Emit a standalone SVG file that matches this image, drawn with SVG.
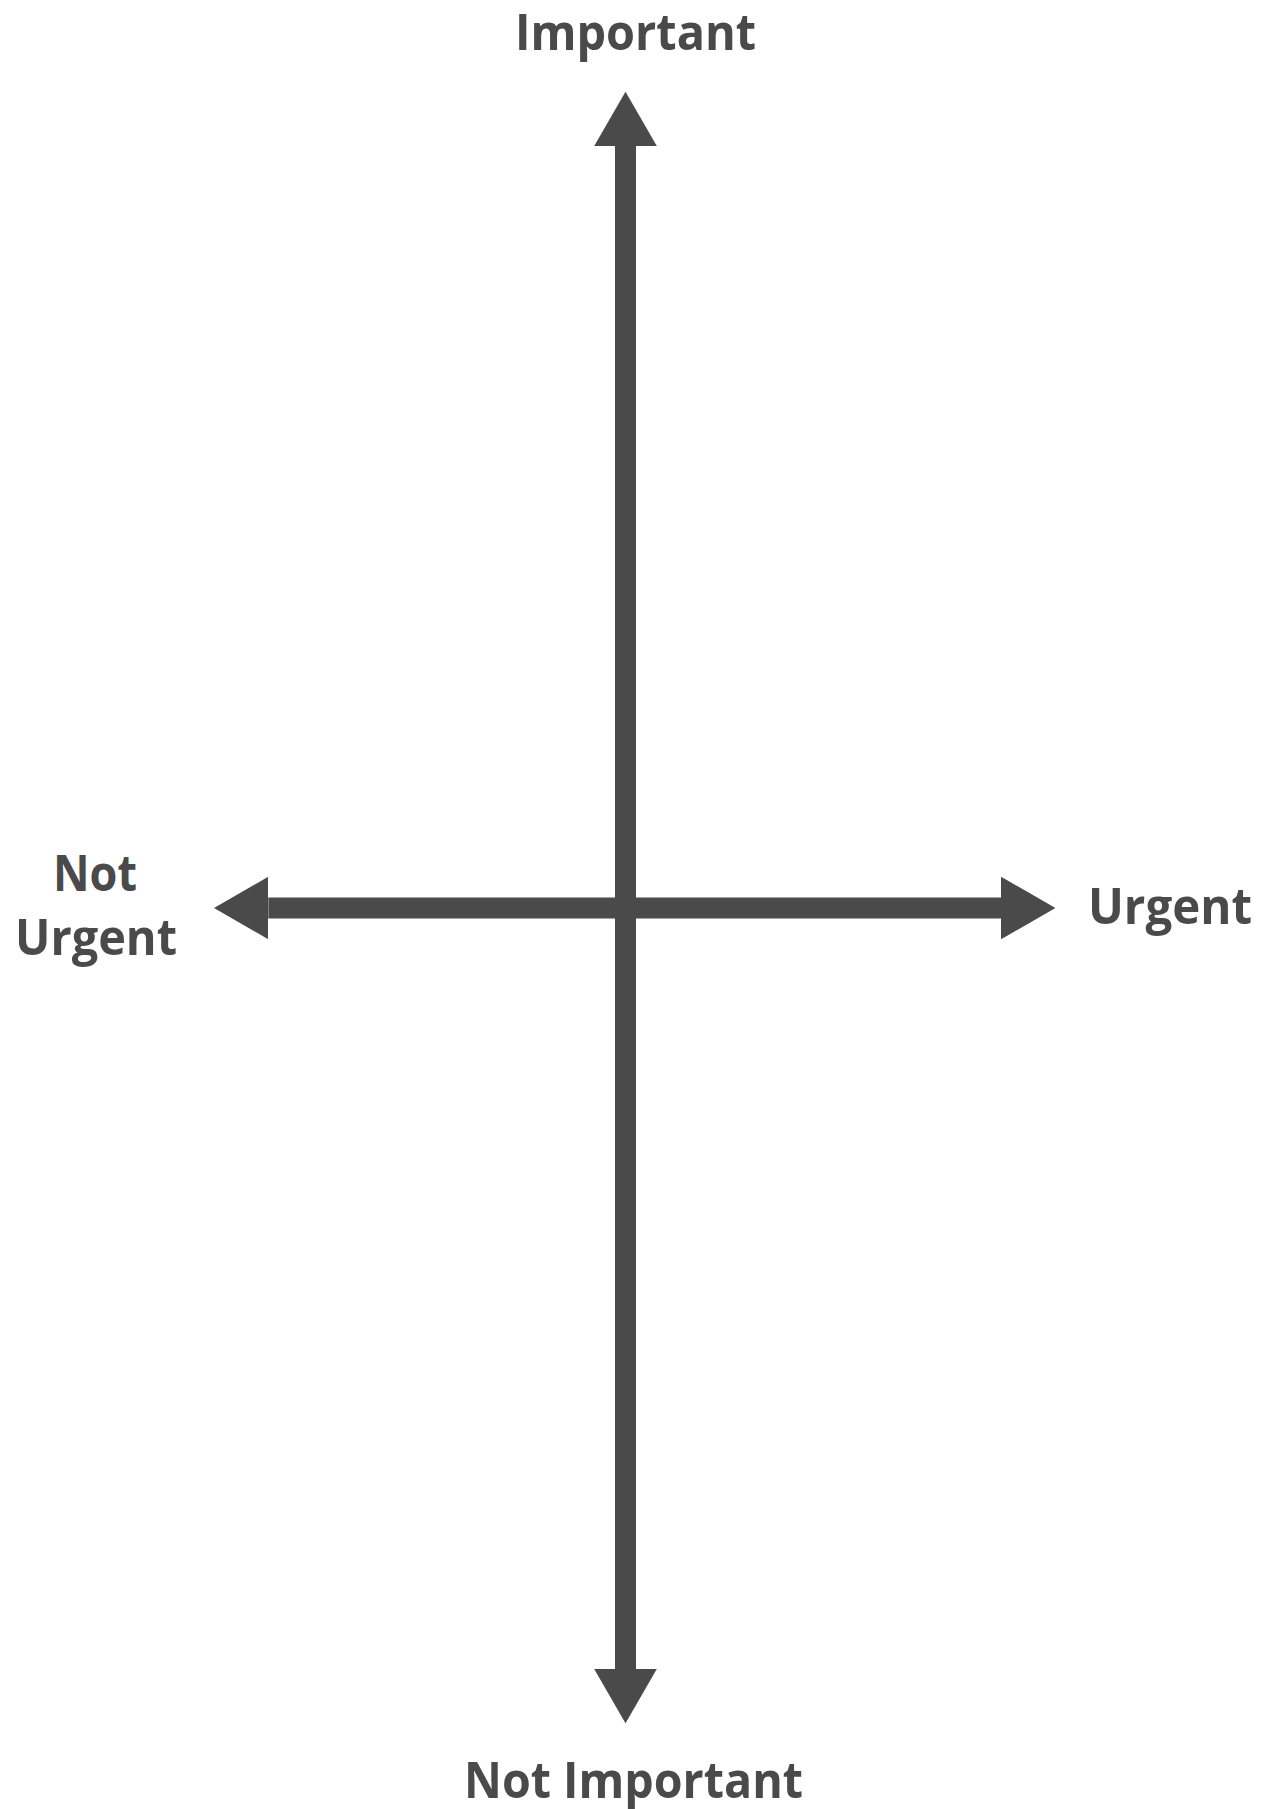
<svg xmlns="http://www.w3.org/2000/svg" width="1273" height="1809" viewBox="0 0 1273 1809">
  <style>
    .lbl { font-family: "Open Sans", "Liberation Sans", sans-serif; font-weight: 700; font-size: 50px; fill: #4a4a4a; }
    .axis { stroke: #4a4a4a; stroke-width: 21; fill: none; marker-start: url(#head); marker-end: url(#head); }
  </style>
  <defs>
    <marker id="head" viewBox="0 0 54.3 62.6" markerWidth="54.3" markerHeight="62.6" markerUnits="userSpaceOnUse" refX="0" refY="31.3" orient="auto-start-reverse">
      <path d="M0,0 L54.3,31.3 L0,62.6 Z" fill="#4a4a4a"/>
    </marker>
  </defs>
  <rect width="1273" height="1809" fill="#ffffff"/>
  <g id="connectors">
    <line class="axis" x1="625.5" y1="146" x2="625.5" y2="1669"/>
    <line class="axis" x1="268.3" y1="908" x2="1001" y2="908"/>
  </g>
  <g id="important">
    <text class="lbl" x="515" y="50" textLength="241" lengthAdjust="spacingAndGlyphs">Important</text>
  </g>
  <g id="not-important">
    <text class="lbl" x="464" y="1798" textLength="339" lengthAdjust="spacingAndGlyphs">Not Important</text>
  </g>
  <g id="urgent">
    <text class="lbl" x="1088" y="924" textLength="164" lengthAdjust="spacingAndGlyphs">Urgent</text>
  </g>
  <g id="not-urgent">
    <text class="lbl" x="53" y="891" textLength="84" lengthAdjust="spacingAndGlyphs">Not</text>
    <text class="lbl" x="15" y="955" textLength="162" lengthAdjust="spacingAndGlyphs">Urgent</text>
  </g>
</svg>
